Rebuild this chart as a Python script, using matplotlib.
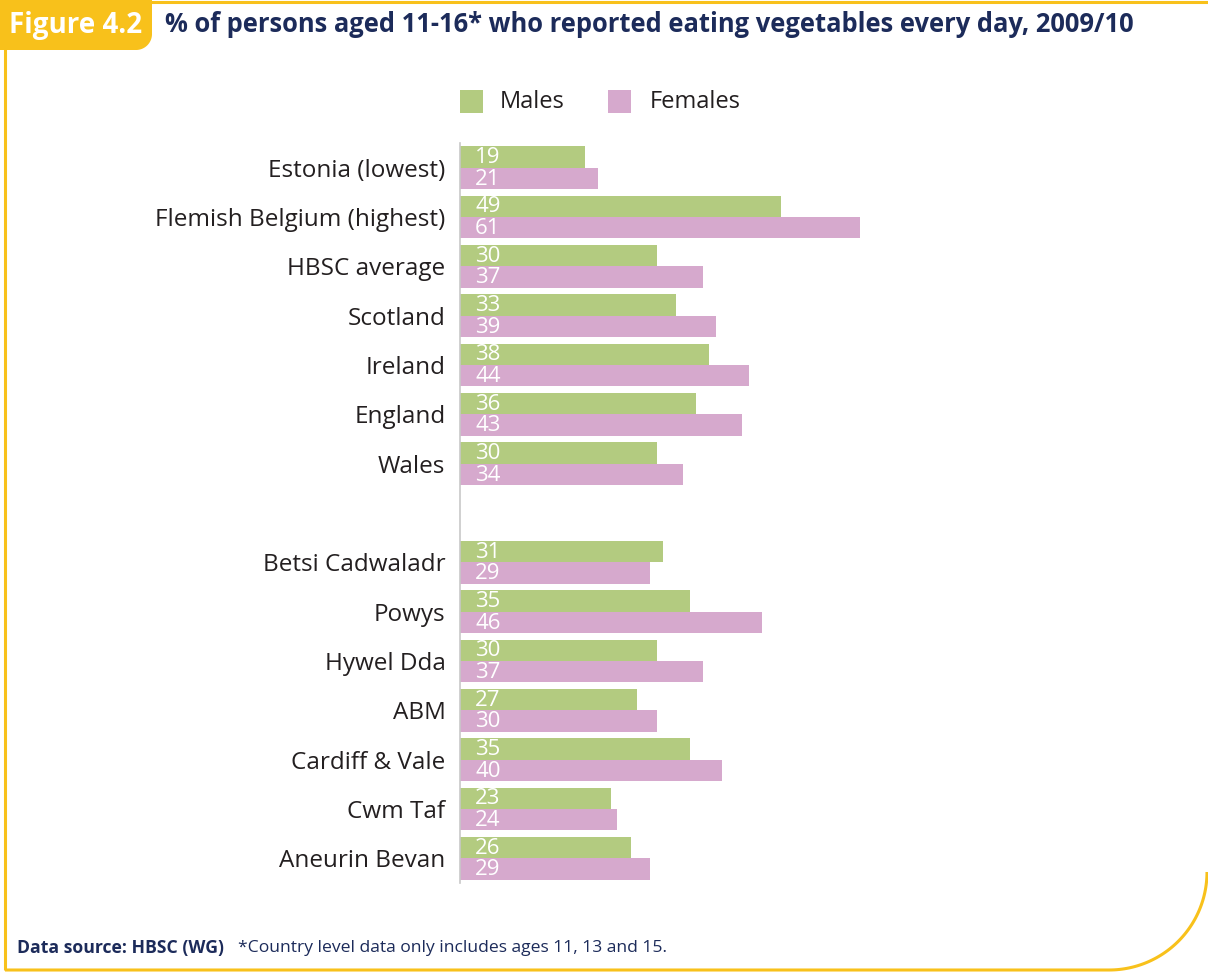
import numpy as np
import matplotlib.pyplot as plt

plt.rcParams['font.family'] = ['Open Sans', 'DejaVu Sans']

# data: % eating vegetables every day
categories = ['Estonia (lowest)', 'Flemish Belgium (highest)', 'HBSC average',
              'Scotland', 'Ireland', 'England', 'Wales', '',
              'Betsi Cadwaladr', 'Powys', 'Hywel Dda', 'ABM',
              'Cardiff & Vale', 'Cwm Taf', 'Aneurin Bevan']
males = [19, 49, 30, 33, 38, 36, 30, None, 31, 35, 30, 27, 35, 23, 26]
females = [21, 61, 37, 39, 44, 43, 34, None, 29, 46, 37, 30, 40, 24, 29]

GREEN = '#b3cb80'
PINK = '#d6a9cd'
YELLOW = '#f8c11b'
NAVY = '#1c2b5a'
TEXT = '#231f20'

W, H = 1208, 973
fig = plt.figure(figsize=(W / 100, H / 100), dpi=100)

# overlay in pixel coords for frame, title and notes
bg = fig.add_axes([0, 0, 1, 1])
bg.set_xlim(0, W)
bg.set_ylim(H, 0)
bg.axis('off')

lw = 2.2
bg.plot([150, W], [1.5, 1.5], color=YELLOW, lw=lw, solid_capstyle='butt')
bg.plot([5, 5], [45, 970], color=YELLOW, lw=lw, solid_capstyle='butt')
r = 98
cx, cy = W - 1 - r, 970 - r
t = np.linspace(0, np.pi / 2, 60)
ax_pts = np.concatenate([[5], cx + r * np.sin(t)])
ay_pts = np.concatenate([[970], cy + r * np.cos(t)])
bg.plot(ax_pts, ay_pts, color=YELLOW, lw=lw, solid_capstyle='butt')

# "Figure 4.2" tab with rounded lower-right corner
rr = 16
tt = np.linspace(0, np.pi / 2, 30)
tab_x = np.concatenate([[0, 152], 152 - rr + rr * np.cos(tt), [0]])
tab_y = np.concatenate([[0, 0], 50 - rr + rr * np.sin(tt), [50]])
bg.fill(tab_x, tab_y, color=YELLOW, lw=0)
bg.text(9, 25, 'Figure 4.2', color='white', fontsize=20, fontweight='bold',
        va='center', ha='left')
bg.text(165, 25, '% of persons aged 11-16* who reported eating vegetables every day, 2009/10',
        color=NAVY, fontsize=18.4, fontweight='bold', va='center', ha='left')

# footer
bg.text(17, 948, 'Data source: HBSC (WG)', color=NAVY, fontsize=12.7,
        fontweight='bold', va='center', ha='left')
bg.text(238, 948, '*Country level data only includes ages 11, 13 and 15.', color=NAVY,
        fontsize=12.6, va='center', ha='left')

# legend
bg.add_patch(plt.Rectangle((460, 90), 23, 23, color=GREEN, lw=0))
bg.text(500, 102, 'Males', color=TEXT, fontsize=17, va='center', ha='left')
bg.add_patch(plt.Rectangle((608, 90), 23, 23, color=PINK, lw=0))
bg.text(650, 102, 'Females', color=TEXT, fontsize=17, va='center', ha='left')

# bar chart
px_per_unit = 6.56
left, right = 460, 960
top, bottom = 143, 883
ax = fig.add_axes([left / W, 1 - bottom / H, (right - left) / W, (bottom - top) / H])
ax.set_xlim(0, (right - left) / px_per_unit)
ax.set_ylim(len(categories) - 0.5, -0.5)

h = 0.43
y = np.arange(len(categories))
for i in range(len(categories)):
    if males[i] is None:
        continue
    ax.barh(y[i] - h / 2, males[i], height=h, color=GREEN, lw=0)
    ax.barh(y[i] + h / 2, females[i], height=h, color=PINK, lw=0)
    ax.text(2.3, y[i] - h / 2 + 0.01, str(males[i]), color='white', fontsize=16,
            va='center', ha='left')
    ax.text(2.3, y[i] + h / 2 + 0.02, str(females[i]), color='white', fontsize=16,
            va='center', ha='left')

ax.set_yticks(y)
ax.set_yticklabels(categories, fontsize=17.5, color=TEXT)
ax.tick_params(axis='y', length=0, pad=10.5)
ax.set_xticks([])
for s in ['top', 'right', 'bottom']:
    ax.spines[s].set_visible(False)
ax.spines['left'].set_color('#c8c8c8')
ax.spines['left'].set_linewidth(1.2)
ax.patch.set_alpha(0)

fig.savefig('out.png', dpi=100)
